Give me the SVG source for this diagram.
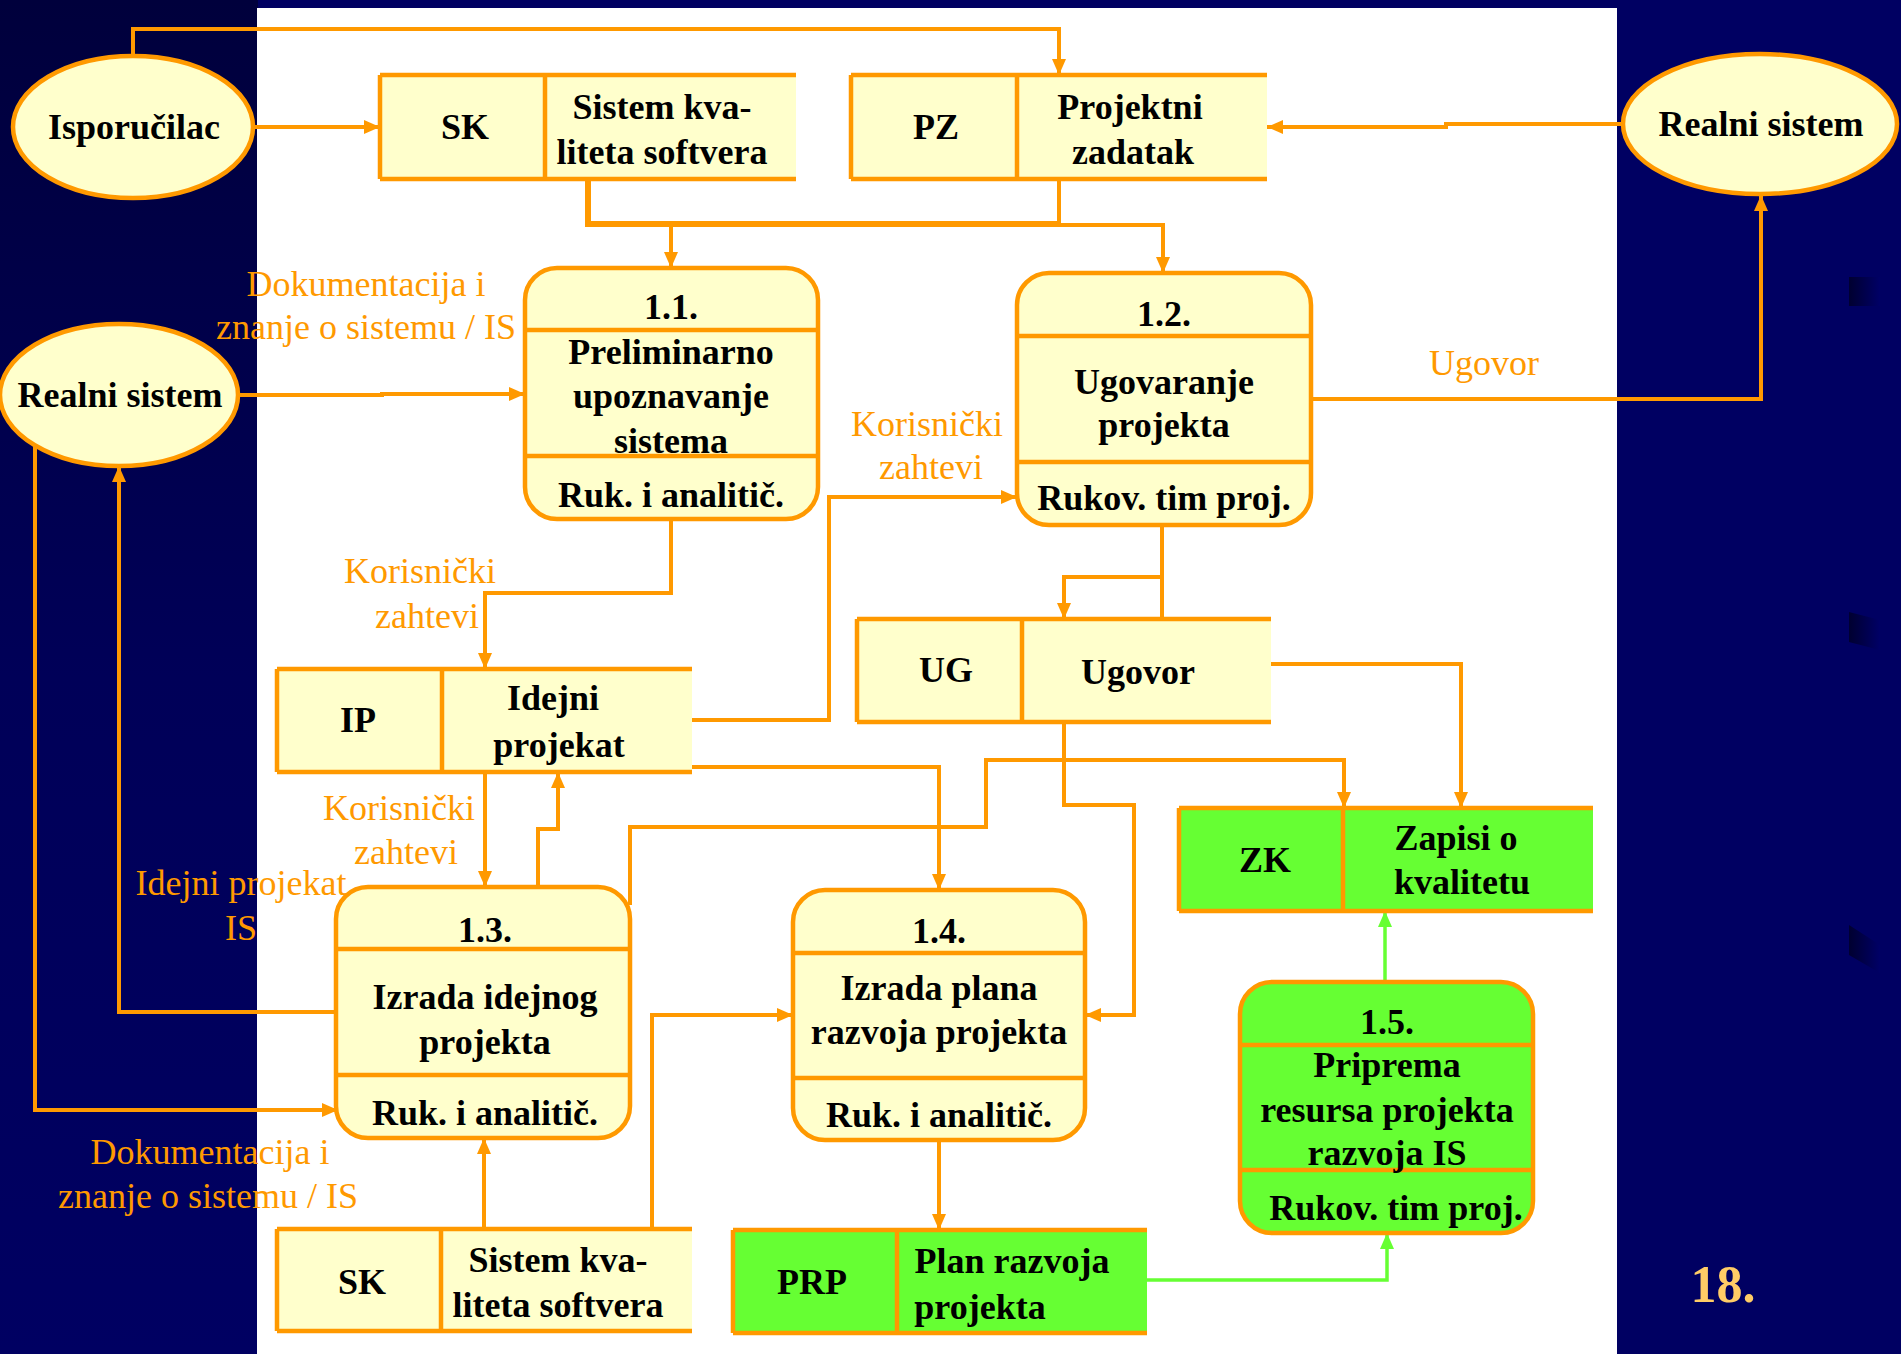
<svg xmlns="http://www.w3.org/2000/svg" width="1901" height="1354" viewBox="0 0 1901 1354">
<defs>
<linearGradient id="bgl" x1="0" y1="0" x2="0" y2="1">
<stop offset="0" stop-color="#00003c"/>
<stop offset="0.5" stop-color="#000058"/>
<stop offset="1" stop-color="#000062"/>
</linearGradient>
<linearGradient id="sh" x1="0" y1="0" x2="1" y2="0">
<stop offset="0" stop-color="#000030"/>
<stop offset="1" stop-color="#000066"/>
</linearGradient>
<marker id="ao" markerUnits="userSpaceOnUse" markerWidth="18" markerHeight="16" refX="16" refY="7" orient="auto">
<path d="M0,0 L16,7 L0,14 z" fill="#FF9900"/>
</marker>
<marker id="ag" markerUnits="userSpaceOnUse" markerWidth="18" markerHeight="16" refX="16" refY="7" orient="auto">
<path d="M0,0 L16,7 L0,14 z" fill="#66FF33"/>
</marker>
<style>
.y{fill:#FFFFCC}
.g{fill:#66FF33}
.b{fill:none;stroke:#FF9900;stroke-width:4.5}
.e{fill:#FFFFCC;stroke:#FF9900;stroke-width:4.5}
.t{font-family:"Liberation Serif","Times New Roman",serif;font-weight:bold;font-size:36px;fill:#000;text-anchor:middle}
.l{font-family:"Liberation Serif","Times New Roman",serif;font-size:36px;fill:#FF9900;text-anchor:middle}
.c{fill:none;stroke:#FF9900;stroke-width:4;marker-end:url(#ao)}
.cn{fill:none;stroke:#FF9900;stroke-width:4}
.cg{fill:none;stroke:#66FF33;stroke-width:3.5;marker-end:url(#ag)}
</style>
</defs>
<rect x="0" y="0" width="1901" height="1354" fill="#000062"/>
<rect x="0" y="0" width="258" height="1354" fill="url(#bgl)"/>
<rect x="257" y="8" width="1360" height="1346" fill="#FFFFFF"/>
<g id="decor">
<polygon points="1849,277 1880,277 1880,306 1849,306" fill="url(#sh)"/>
<polygon points="1849,612 1880,620 1880,650 1849,642" fill="url(#sh)"/>
<polygon points="1849,925 1880,945 1880,973 1849,955" fill="url(#sh)"/>
</g>

<g id="connectors">
<path class="c" d="M253,127 H380"/>
<path class="c" d="M133,56 V29 H1059 V75"/>
<path class="c" d="M1623,124 H1446 V127 H1267"/>
<path class="cn" d="M588,179 V224 H1059" style="stroke-width:6"/>
<path class="cn" d="M1059,179 V224"/>
<path class="c" d="M1059,225 H1163 V273"/>
<path class="c" d="M671,224 V268"/>
<path class="c" d="M239,395 H382 V394 H525"/>
<path class="c" d="M1311,399 H1761 V195"/>
<path class="c" d="M671,519 V593 H485 V669"/>
<path class="c" d="M692,720 H829 V497 H1017"/>
<path class="c" d="M692,767 H939 V890"/>
<path class="c" d="M485,772 V887"/>
<path class="c" d="M538,887 V829 H558 V772"/>
<path class="c" d="M630,905 V827 H986 V760 H1344 V808"/>
<path class="cn" d="M1162,525 V619"/>
<path class="c" d="M1162,577 H1064 V619"/>
<path class="c" d="M1271,664 H1461 V808"/>
<path class="c" d="M1064,722 V805 H1134 V1015 H1085"/>
<path class="c" d="M336,1012 H119 V466"/>
<path class="c" d="M35,446 V1110 H338"/>
<path class="c" d="M484,1229 V1138"/>
<path class="c" d="M652,1229 V1015 H793"/>
<path class="c" d="M939,1140 V1230"/>
<path class="cg" d="M1147,1280 H1387 V1233"/>
<path class="cg" d="M1385,982 V911"/>
</g>

<g id="labels">
<text class="l" x="366" y="296">Dokumentacija i</text>
<text class="l" x="366" y="339">znanje o sistemu / IS</text>
<text class="l" x="1484" y="375">Ugovor</text>
<text class="l" x="927" y="436">Korisnički</text>
<text class="l" x="931" y="479">zahtevi</text>
<text class="l" x="420" y="583">Korisnički</text>
<text class="l" x="427" y="628">zahtevi</text>
<text class="l" x="399" y="820">Korisnički</text>
<text class="l" x="406" y="864">zahtevi</text>
<text class="l" x="241" y="895">Idejni projekat</text>
<text class="l" x="241" y="940">IS</text>
<text class="l" x="210" y="1164">Dokumentacija i</text>
<text class="l" x="208" y="1208">znanje o sistemu / IS</text>
</g>

<g id="isporucilac">
<ellipse class="e" cx="133" cy="127" rx="120" ry="71"/>
<text class="t" x="134" y="139">Isporučilac</text>
</g>
<g id="realni-sistem-left">
<ellipse class="e" cx="119" cy="395" rx="119" ry="71"/>
<text class="t" x="120" y="407">Realni sistem</text>
</g>
<g id="realni-sistem-right">
<ellipse class="e" cx="1760" cy="124" rx="137" ry="70"/>
<text class="t" x="1761" y="136">Realni sistem</text>
</g>

<g id="store-sk-top">
<rect class="y" x="380" y="75" width="416" height="104"/>
<path class="b" d="M380,75 H796 M380,179 H796 M380,75 V179 M545,75 V179"/>
<text class="t" x="465" y="139">SK</text>
<text class="t" x="662" y="119">Sistem kva-</text>
<text class="t" x="662" y="164">liteta softvera</text>
</g>
<g id="store-pz">
<rect class="y" x="851" y="75" width="416" height="104"/>
<path class="b" d="M851,75 H1267 M851,179 H1267 M851,75 V179 M1017,75 V179"/>
<text class="t" x="936" y="139">PZ</text>
<text class="t" x="1130" y="119">Projektni</text>
<text class="t" x="1133" y="164">zadatak</text>
</g>

<g id="p11">
<rect class="e" x="525" y="268" width="293" height="251" rx="32"/>
<path class="b" d="M525,330 H818 M525,456 H818"/>
<text class="t" x="671" y="319">1.1.</text>
<text class="t" x="671" y="364">Preliminarno</text>
<text class="t" x="671" y="408">upoznavanje</text>
<text class="t" x="671" y="453">sistema</text>
<text class="t" x="671" y="507">Ruk. i analitič.</text>
</g>
<g id="p12">
<rect class="e" x="1017" y="273" width="294" height="252" rx="32"/>
<path class="b" d="M1017,336 H1311 M1017,462 H1311"/>
<text class="t" x="1164" y="326">1.2.</text>
<text class="t" x="1164" y="394">Ugovaranje</text>
<text class="t" x="1164" y="437">projekta</text>
<text class="t" x="1164" y="510">Rukov. tim proj.</text>
</g>

<g id="store-ip">
<rect class="y" x="277" y="669" width="415" height="103"/>
<path class="b" d="M277,669 H692 M277,772 H692 M277,669 V772 M442,669 V772"/>
<text class="t" x="358" y="732">IP</text>
<text class="t" x="553" y="710">Idejni</text>
<text class="t" x="559" y="757">projekat</text>
</g>
<g id="store-ug">
<rect class="y" x="857" y="619" width="414" height="103"/>
<path class="b" d="M857,619 H1271 M857,722 H1271 M857,619 V722 M1022,619 V722"/>
<text class="t" x="946" y="682">UG</text>
<text class="t" x="1138" y="684">Ugovor</text>
</g>
<g id="store-zk">
<rect class="g" x="1179" y="808" width="414" height="103"/>
<path class="b" d="M1179,808 H1593 M1179,911 H1593 M1179,808 V911 M1343,808 V911"/>
<text class="t" x="1265" y="872">ZK</text>
<text class="t" x="1456" y="850">Zapisi o</text>
<text class="t" x="1462" y="894">kvalitetu</text>
</g>

<g id="p13">
<rect class="e" x="336" y="887" width="294" height="251" rx="32"/>
<path class="b" d="M336,949 H630 M336,1075 H630"/>
<text class="t" x="485" y="942">1.3.</text>
<text class="t" x="485" y="1009">Izrada idejnog</text>
<text class="t" x="485" y="1054">projekta</text>
<text class="t" x="485" y="1125">Ruk. i analitič.</text>
</g>
<g id="p14">
<rect class="e" x="793" y="890" width="292" height="250" rx="32"/>
<path class="b" d="M793,953 H1085 M793,1078 H1085"/>
<text class="t" x="939" y="943">1.4.</text>
<text class="t" x="939" y="1000">Izrada plana</text>
<text class="t" x="939" y="1044">razvoja projekta</text>
<text class="t" x="939" y="1127">Ruk. i analitič.</text>
</g>
<g id="p15">
<rect class="e" x="1240" y="982" width="293" height="251" rx="32" style="fill:#66FF33"/>
<path class="b" d="M1240,1045 H1533 M1240,1170 H1533"/>
<text class="t" x="1387" y="1034">1.5.</text>
<text class="t" x="1387" y="1077">Priprema</text>
<text class="t" x="1387" y="1122">resursa projekta</text>
<text class="t" x="1387" y="1165">razvoja IS</text>
<text class="t" x="1396" y="1220">Rukov. tim proj.</text>
</g>

<g id="store-sk-bottom">
<rect class="y" x="277" y="1229" width="415" height="102"/>
<path class="b" d="M277,1229 H692 M277,1331 H692 M277,1229 V1331 M441,1229 V1331"/>
<text class="t" x="362" y="1294">SK</text>
<text class="t" x="558" y="1272">Sistem kva-</text>
<text class="t" x="558" y="1317">liteta softvera</text>
</g>
<g id="store-prp">
<rect class="g" x="733" y="1230" width="414" height="103"/>
<path class="b" d="M733,1230 H1147 M733,1333 H1147 M733,1230 V1333 M897,1230 V1333"/>
<text class="t" x="812" y="1294">PRP</text>
<text class="t" x="1012" y="1273">Plan razvoja</text>
<text class="t" x="980" y="1319">projekta</text>
</g>

<text x="1723" y="1302" font-family="Liberation Serif, Times New Roman, serif" font-weight="bold" font-size="52" fill="#FFCC66" text-anchor="middle">18.</text>
</svg>
